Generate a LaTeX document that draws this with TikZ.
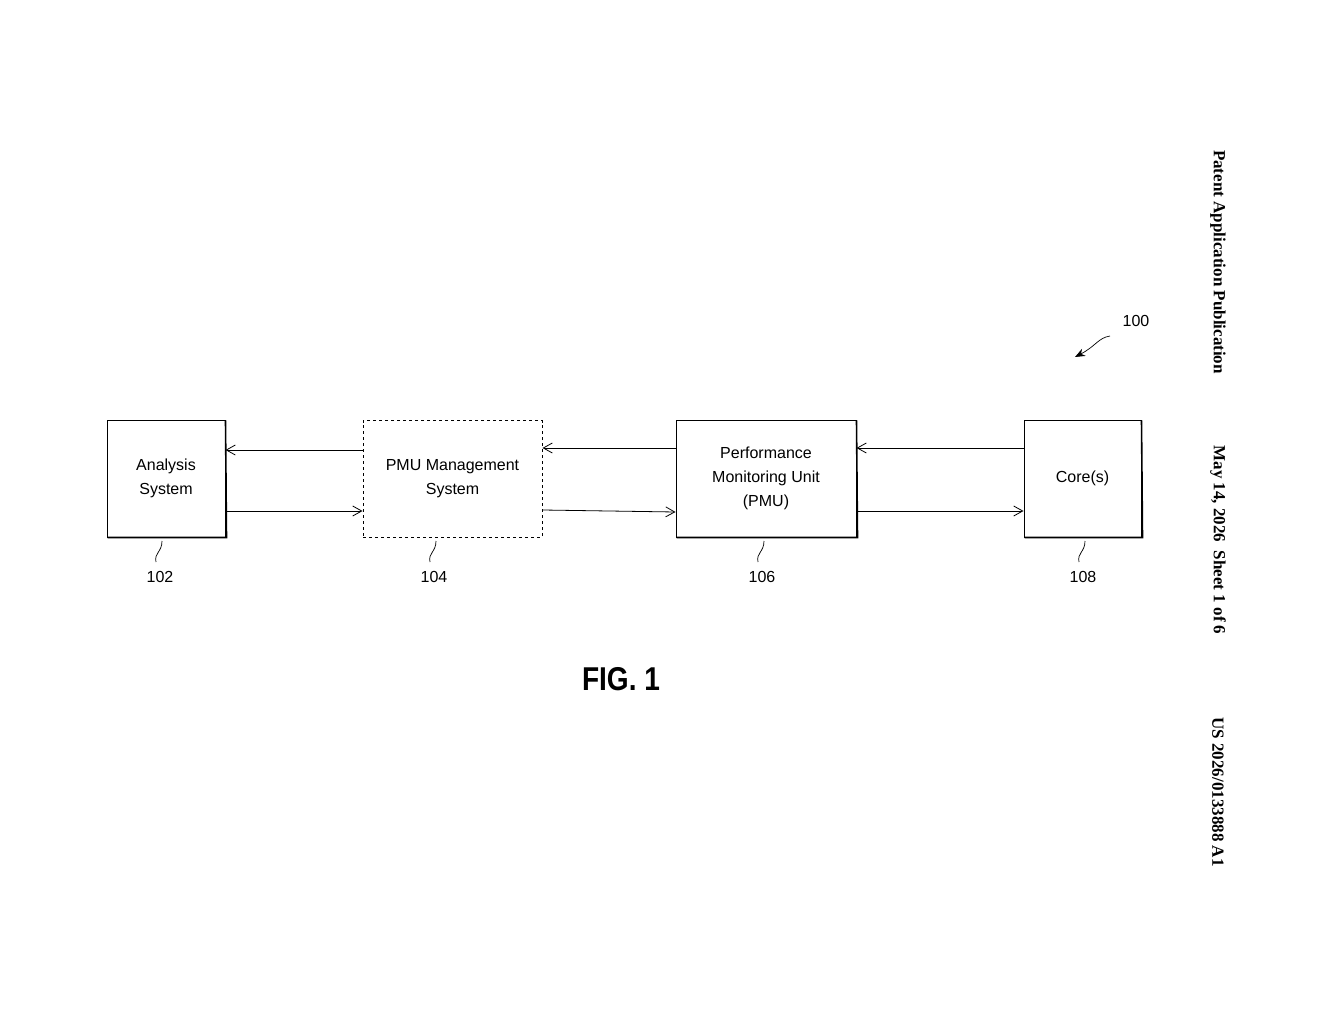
\documentclass[tikz,border=0pt]{standalone}
\usepackage{fontspec}
\setmainfont{Liberation Sans}
\newfontfamily\serifhdr{Liberation Serif}
\usetikzlibrary{arrows.meta}
\begin{document}
\begin{tikzpicture}[x=1pt,y=-1pt,
  box/.style={draw,line width=1pt,minimum width=#1,minimum height=117pt,inner sep=0pt,align=center,font=\fontsize{16}{24}\selectfont},
  sh/.style={line width=1.6pt},
  arr/.style={line width=0.8pt,-{Straight Barb[length=9pt,width=10pt]}},
  lbl/.style={font=\fontsize{16}{18}\selectfont},
  lead/.style={line width=0.7pt}]
\useasboundingbox (0,0) rectangle (1320,1024);
\node[box=118pt] (a) at (166,478.5) {Analysis\\System};
\node[box=179pt,dashed] (m) at (452.5,478.5) {PMU Management\\System};
\node[box=180pt] (p) at (766,478.5) {Performance\\Monitoring Unit\\(PMU)};
\node[box=117pt] (c) at (1082.5,478.5) {Core(s)};
\foreach \n in {a,p,c}{\draw[sh] ([xshift=1pt]\n.south west)--([xshift=1pt]\n.south east)--([yshift=-1pt]\n.north east);}
\draw[arr] (m.west|-0,450) -- (a.east|-0,450);
\draw[arr] (a.east|-0,511) -- (m.west|-0,511);
\draw[arr] (p.west|-0,448) -- (m.east|-0,448);
\draw[arr] (m.east|-0,510) -- (p.west|-0,512);
\draw[arr] (c.west|-0,448) -- (p.east|-0,448);
\draw[arr] (p.east|-0,511) -- (c.west|-0,511);
\draw (363,420)--(363,423) (542,420)--(542,423);
\foreach \x/\t [count=\i] in {160/102,434/104,762/106,1083/108}{
  \node[lbl] (r\i) at (\x,577) {\t};
  \draw[lead] (\x-4,562) .. controls (\x-6,553) and (\x+2,552) .. (\x+2,541);
}
\node[lbl] (r100) at (1136,321) {100};
\coordinate (t100) at (1075,357);
\draw[lead,-{Stealth[length=10pt,width=8pt]}] (1110,336) .. controls (1098,338) and (1096,346) .. (t100);
\node[font=\bfseries\fontsize{33}{36}\selectfont,xscale=0.85] (fig) at (621,679) {FIG. 1};
\node[rotate=-90,font=\serifhdr\bfseries\fontsize{17}{20}\selectfont] (h1) at (1218,262) {Patent Application Publication};
\node[rotate=-90,font=\serifhdr\bfseries\fontsize{17}{20}\selectfont] (h2) at (1218,540) {May 14, 2026\ \ Sheet 1 of 6};
\node[rotate=-90,font=\serifhdr\bfseries\fontsize{17}{20}\selectfont] (h3) at (1218,792) {US 2026/0133888 A1};
\end{tikzpicture}
\end{document}
